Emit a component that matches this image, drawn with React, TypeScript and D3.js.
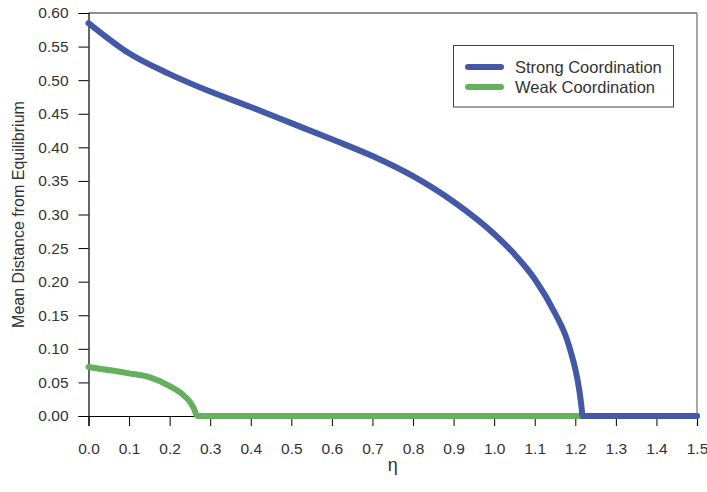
import { useEffect, useRef } from "react";
import * as d3 from "d3";

// eta values and mean distance for each regime
const strongEta = [0, 0.1, 0.2, 0.3, 0.4, 0.5, 0.6, 0.7, 0.8, 0.9, 1.0, 1.05, 1.1, 1.15, 1.18, 1.19, 1.2, 1.21, 1.215, 1.218, 1.3, 1.4, 1.5];
const strongVal = [0.585, 0.540, 0.509, 0.483, 0.460, 0.436, 0.412, 0.387, 0.357, 0.319, 0.271, 0.241, 0.204, 0.153, 0.113, 0.093, 0.070, 0.038, 0.015, 0, 0, 0, 0];

const weakEta = [0, 0.1, 0.15, 0.2, 0.23, 0.25, 0.26, 0.268, 0.5, 1.0, 1.5];
const weakVal = [0.073, 0.0635, 0.0578, 0.0445, 0.033, 0.021, 0.011, 0, 0, 0, 0];

const xTicks = [0, 0.1, 0.2, 0.3, 0.4, 0.5, 0.6, 0.7, 0.8, 0.9, 1.0, 1.1, 1.2, 1.3, 1.4, 1.5];
const yTicks = [0, 0.05, 0.1, 0.15, 0.2, 0.25, 0.3, 0.35, 0.4, 0.45, 0.5, 0.55, 0.6];

const seriesNames = ["Strong Coordination", "Weak Coordination"];
const seriesColors = ["#4359a7", "#64b05d"];

const W = 707;
const H = 492;
const margin = { top: 13, right: 10, bottom: 76, left: 88.5 };

export default function App() {
  const ref = useRef<SVGSVGElement>(null);

  useEffect(() => {
    const svg = d3.select(ref.current);
    svg.selectAll("*").remove();

    const x = d3.scaleLinear().domain([0, 1.5]).range([margin.left, W - margin.right]);
    const y = d3.scaleLinear().domain([0, 0.6]).range([H - margin.bottom, margin.top]);

    const font = "Liberation Sans, Arial, sans-serif";

    // frame (top/right)
    svg.append("line")
      .attr("x1", x(0)).attr("x2", x(1.5)).attr("y1", y(0.6)).attr("y2", y(0.6))
      .attr("stroke", "#222").attr("stroke-width", 1);
    svg.append("line")
      .attr("x1", x(1.5)).attr("x2", x(1.5)).attr("y1", y(0.6)).attr("y2", y(0))
      .attr("stroke", "#888").attr("stroke-width", 1.5);

    const xAxis = svg.append("g")
      .attr("transform", `translate(0,${y(0)})`)
      .call(d3.axisBottom(x).tickValues(xTicks).tickFormat(d3.format(".1f")).tickSize(10).tickPadding(17));
    const yAxis = svg.append("g")
      .attr("transform", `translate(${x(0)},0)`)
      .call(d3.axisLeft(y).tickValues(yTicks).tickFormat(d3.format(".2f")).tickSize(10).tickPadding(10));

    [xAxis, yAxis].forEach((g) => {
      g.select(".domain").attr("stroke", "#000").attr("stroke-width", 1.2);
      g.selectAll(".tick line").attr("stroke", "#000");
      g.selectAll(".tick text")
        .attr("font-family", font)
        .attr("font-size", 15.5)
        .attr("fill", "#333");
    });

    const line = d3.line<[number, number]>()
      .x((d) => x(d[0]))
      .y((d) => y(d[1]))
      .curve(d3.curveMonotoneX);

    const weak: [number, number][] = weakEta.map((e, i) => [e, weakVal[i]]);
    const strong: [number, number][] = strongEta.map((e, i) => [e, strongVal[i]]);

    svg.append("path")
      .attr("d", line(weak) as string)
      .attr("fill", "none")
      .attr("stroke", seriesColors[1])
      .attr("stroke-width", 6)
      .attr("stroke-linecap", "round");

    svg.append("path")
      .attr("d", line(strong) as string)
      .attr("fill", "none")
      .attr("stroke", seriesColors[0])
      .attr("stroke-width", 6)
      .attr("stroke-linecap", "round");

    // axis titles
    svg.append("text")
      .attr("x", (x(0) + x(1.5)) / 2)
      .attr("y", 471)
      .attr("text-anchor", "middle")
      .attr("font-family", font)
      .attr("font-size", 18)
      .attr("fill", "#333")
      .text("η");

    svg.append("text")
      .attr("transform", `translate(24,${(y(0) + y(0.6)) / 2}) rotate(-90)`)
      .attr("text-anchor", "middle")
      .attr("font-family", font)
      .attr("font-size", 16)
      .attr("fill", "#333")
      .text("Mean Distance from Equilibrium");

    // legend
    const lg = svg.append("g");
    lg.append("rect")
      .attr("x", 453.5).attr("y", 45.5).attr("width", 220).attr("height", 61.5)
      .attr("fill", "#fff").attr("stroke", "#444").attr("stroke-width", 1);
    seriesNames.forEach((name, i) => {
      const yy = 67 + i * 20;
      lg.append("line")
        .attr("x1", 468).attr("x2", 501).attr("y1", yy).attr("y2", yy)
        .attr("stroke", seriesColors[i]).attr("stroke-width", 6).attr("stroke-linecap", "round");
      lg.append("text")
        .attr("x", 515).attr("y", yy + 5.5)
        .attr("font-family", font)
        .attr("font-size", 16.5)
        .attr("fill", "#333")
        .text(name);
    });
  }, []);

  return (
    <svg ref={ref} width={W} height={H} style={{ position: "absolute", left: 0, top: 0 }} />
  );
}
